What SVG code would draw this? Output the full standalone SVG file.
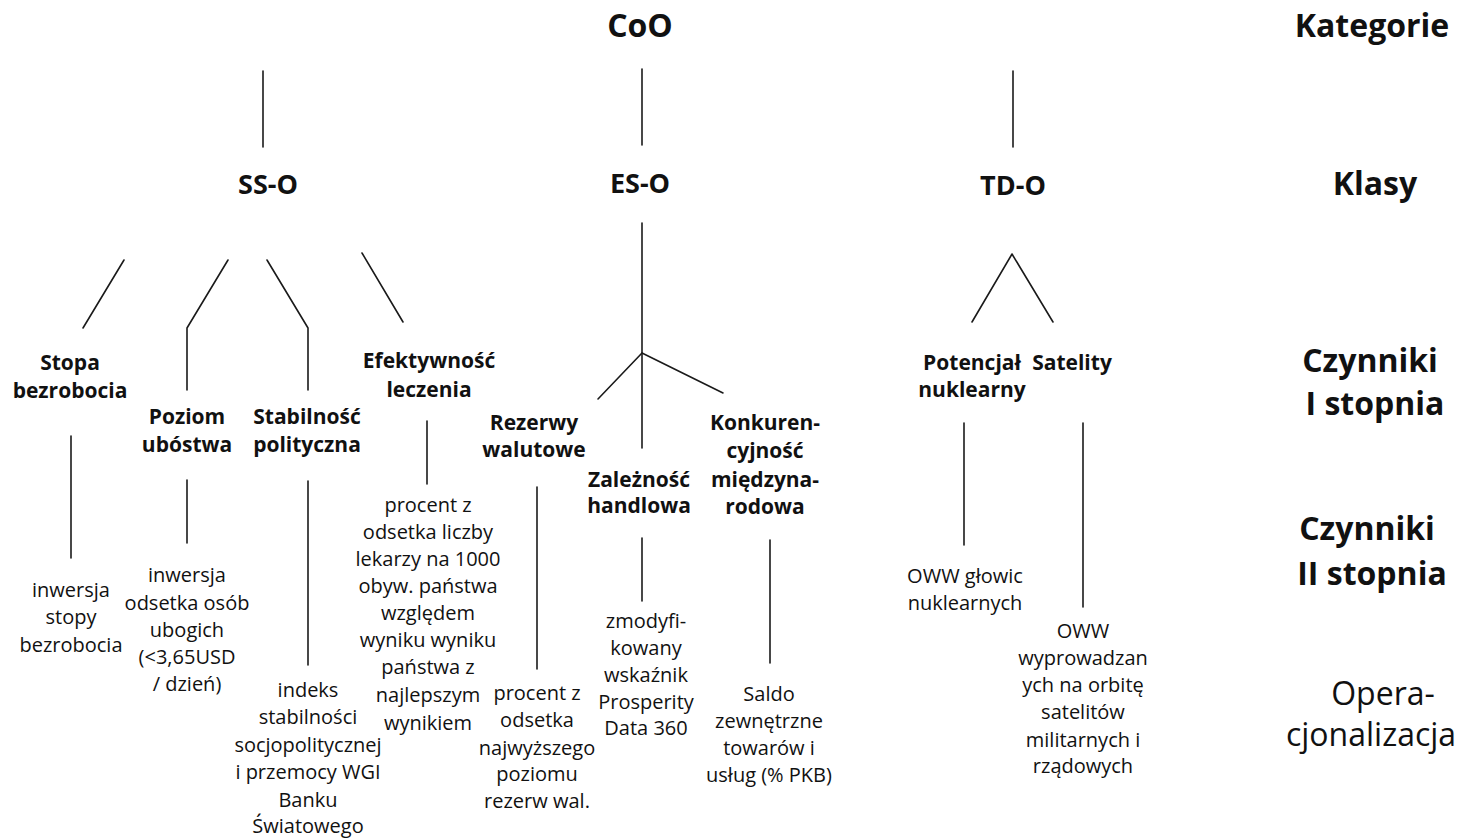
<svg xmlns="http://www.w3.org/2000/svg" width="1463" height="840" viewBox="0 0 1463 840">
  <style>
    text { font-family: "Open Sans", "Noto Sans", "Liberation Sans", sans-serif; fill: #111; text-anchor: middle; }
    .h1 { font-size: 32px; font-weight: 700; }
    .h2 { font-size: 27px; font-weight: 700; }
    .f1 { font-size: 21px; font-weight: 700; }
    .op { font-size: 20px; font-weight: 400; }
    .side { font-size: 32px; font-weight: 700; }
    .side-r { font-size: 32px; font-weight: 400; }
    .edge { stroke: #1a1a1a; stroke-width: 1.6; fill: none; stroke-linecap: round; stroke-linejoin: round; }
  </style>
  <rect width="1463" height="840" fill="#ffffff"/>

  <!-- connectors -->
  <g id="connectors" class="edge">
    <!-- category to classes -->
    <line x1="263" y1="71" x2="263" y2="147"/>
    <line x1="642" y1="69" x2="642" y2="145"/>
    <line x1="1013" y1="71" x2="1013" y2="147"/>
    <!-- SS-O branches -->
    <line x1="124" y1="260" x2="83" y2="328"/>
    <polyline points="228,260 187,328 187,390"/>
    <polyline points="267,260 308,328 308,390"/>
    <line x1="362" y1="253" x2="403" y2="322"/>
    <!-- ES-O branches -->
    <line x1="642" y1="223" x2="642" y2="448"/>
    <line x1="642" y1="353" x2="598" y2="399"/>
    <line x1="642" y1="353" x2="723" y2="393"/>
    <!-- TD-O branches -->
    <polyline points="972,322 1012,254 1053,322"/>
    <!-- first degree to second degree -->
    <line x1="71" y1="436" x2="71" y2="558"/>
    <line x1="187" y1="480" x2="187" y2="543"/>
    <line x1="308" y1="481" x2="308" y2="665"/>
    <line x1="427" y1="421" x2="427" y2="484"/>
    <line x1="537" y1="487" x2="537" y2="669"/>
    <line x1="642" y1="538" x2="642" y2="601"/>
    <line x1="770" y1="540" x2="770" y2="663"/>
    <line x1="964" y1="423" x2="964" y2="545"/>
    <line x1="1083" y1="423" x2="1083" y2="607"/>
  </g>

  <!-- category -->
  <g id="node-coo"><text class="h1" x="640" y="37">CoO</text></g>

  <!-- classes -->
  <g id="node-sso"><text class="h2" x="268" y="194">SS-O</text></g>
  <g id="node-eso"><text class="h2" x="640" y="193">ES-O</text></g>
  <g id="node-tdo"><text class="h2" x="1013" y="195">TD-O</text></g>

  <!-- first degree factors -->
  <g id="node-stopa" class="f1"><text class="f1" x="70" y="370">Stopa</text><text class="f1" x="70" y="398">bezrobocia</text></g>
  <g id="node-poziom"><text class="f1" x="187" y="424">Poziom</text><text class="f1" x="187" y="452">ubóstwa</text></g>
  <g id="node-stabilnosc"><text class="f1" x="307" y="424">Stabilność</text><text class="f1" x="307" y="452">polityczna</text></g>
  <g id="node-efektywnosc"><text class="f1" x="429" y="368">Efektywność</text><text class="f1" x="429" y="397">leczenia</text></g>
  <g id="node-rezerwy"><text class="f1" x="534" y="430">Rezerwy</text><text class="f1" x="534" y="457">walutowe</text></g>
  <g id="node-zaleznosc"><text class="f1" x="639" y="487">Zależność</text><text class="f1" x="639" y="513">handlowa</text></g>
  <g id="node-konkurencyjnosc"><text class="f1" x="765" y="430">Konkuren-</text><text class="f1" x="765" y="458">cyjność</text><text class="f1" x="765" y="487">międzyna-</text><text class="f1" x="765" y="514">rodowa</text></g>
  <g id="node-potencjal"><text class="f1" x="972" y="370">Potencjał</text><text class="f1" x="972" y="397">nuklearny</text></g>
  <g id="node-satelity"><text class="f1" x="1072" y="370">Satelity</text></g>

  <!-- operationalisation -->
  <g id="op-stopa" class="op">
    <text class="op" x="71" y="597">inwersja</text>
    <text class="op" x="71" y="624">stopy</text>
    <text class="op" x="71" y="652">bezrobocia</text>
  </g>
  <g id="op-poziom">
    <text class="op" x="187" y="582">inwersja</text>
    <text class="op" x="187" y="610">odsetka osób</text>
    <text class="op" x="187" y="637">ubogich</text>
    <text class="op" x="187" y="664">(&lt;3,65USD</text>
    <text class="op" x="187" y="691">/ dzień)</text>
  </g>
  <g id="op-stabilnosc">
    <text class="op" x="308" y="697">indeks</text>
    <text class="op" x="308" y="724">stabilności</text>
    <text class="op" x="308" y="752">socjopolitycznej</text>
    <text class="op" x="308" y="779">i przemocy WGI</text>
    <text class="op" x="308" y="807">Banku</text>
    <text class="op" x="308" y="833">Światowego</text>
  </g>
  <g id="op-efektywnosc">
    <text class="op" x="428" y="512">procent z</text>
    <text class="op" x="428" y="539">odsetka liczby</text>
    <text class="op" x="428" y="566">lekarzy na 1000</text>
    <text class="op" x="428" y="593">obyw. państwa</text>
    <text class="op" x="428" y="620">względem</text>
    <text class="op" x="428" y="647">wyniku wyniku</text>
    <text class="op" x="428" y="674">państwa z</text>
    <text class="op" x="428" y="702">najlepszym</text>
    <text class="op" x="428" y="730">wynikiem</text>
  </g>
  <g id="op-rezerwy">
    <text class="op" x="537" y="700">procent z</text>
    <text class="op" x="537" y="727">odsetka</text>
    <text class="op" x="537" y="755">najwyższego</text>
    <text class="op" x="537" y="781">poziomu</text>
    <text class="op" x="537" y="808">rezerw wal.</text>
  </g>
  <g id="op-zaleznosc">
    <text class="op" x="646" y="628">zmodyfi-</text>
    <text class="op" x="646" y="655">kowany</text>
    <text class="op" x="646" y="682">wskaźnik</text>
    <text class="op" x="646" y="709">Prosperity</text>
    <text class="op" x="646" y="735">Data 360</text>
  </g>
  <g id="op-konkurencyjnosc">
    <text class="op" x="769" y="701">Saldo</text>
    <text class="op" x="769" y="728">zewnętrzne</text>
    <text class="op" x="769" y="755">towarów i</text>
    <text class="op" x="769" y="782">usług (% PKB)</text>
  </g>
  <g id="op-potencjal">
    <text class="op" x="965" y="583">OWW głowic</text>
    <text class="op" x="965" y="610">nuklearnych</text>
  </g>
  <g id="op-satelity">
    <text class="op" x="1083" y="638">OWW</text>
    <text class="op" x="1083" y="665">wyprowadzan</text>
    <text class="op" x="1083" y="692">ych na orbitę</text>
    <text class="op" x="1083" y="719">satelitów</text>
    <text class="op" x="1083" y="747">militarnych i</text>
    <text class="op" x="1083" y="773">rządowych</text>
  </g>

  <!-- level legend -->
  <g id="legend-kategorie"><text class="side" x="1372" y="37">Kategorie</text></g>
  <g id="legend-klasy"><text class="side" x="1375" y="195">Klasy</text></g>
  <g id="legend-czynniki-1"><text class="side" x="1370" y="372">Czynniki</text><text class="side" x="1375" y="415">I stopnia</text></g>
  <g id="legend-czynniki-2"><text class="side" x="1367" y="540">Czynniki</text><text class="side" x="1372" y="585">II stopnia</text></g>
  <g id="legend-operacjonalizacja"><text class="side-r" x="1383" y="705">Opera-</text><text class="side-r" x="1371" y="746">cjonalizacja</text></g>
</svg>
